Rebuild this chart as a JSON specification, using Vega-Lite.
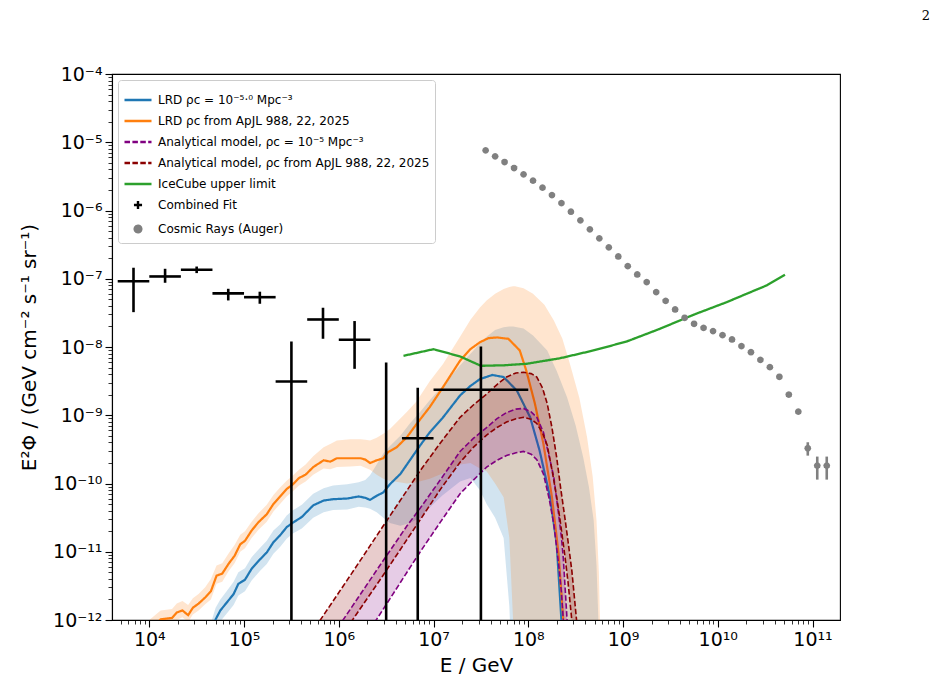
{
"$schema": "https://vega.github.io/schema/vega-lite/v6.json",
"width": 728, "height": 546,
"autosize": {"type": "none"},
"padding": {"left": 112, "top": 74, "right": 98, "bottom": 68},
"background": "white",
"title": {"text": "2", "anchor": "end", "font": "DejaVu Serif", "fontSize": 13, "fontWeight": "normal", "color": "black", "dx": 90, "offset": 42},
"config": {
  "view": {"stroke": "black", "strokeWidth": 1.1},
  "font": "DejaVu Sans",
  "axis": {"labelFont": "DejaVu Sans", "labelFontSize": 19, "titleFont": "DejaVu Sans", "titleFontSize": 20, "titleFontWeight": "normal", "labelColor": "black", "titleColor": "black", "tickColor": "black", "domainColor": "black", "domainWidth": 1.1, "grid": false, "labelFlush": false, "labelOverlap": false, "labelPadding": 3}
},
"resolve": {"axis": {"x": "independent", "y": "independent"}},
"datasets": {
"lrd_blue": [
{"E":4.467e4,"F":5.012e-13},{"E":5.012e4,"F":1.023e-12},{"E":5.623e4,"F":1.380e-12},{"E":6.607e4,"F":1.820e-12},{"E":7.762e4,"F":2.399e-12},{"E":8.710e4,"F":3.388e-12},{"E":1.023e5,"F":3.890e-12},{"E":1.202e5,"F":5.623e-12},{"E":1.479e5,"F":7.762e-12},{"E":1.738e5,"F":9.772e-12},{"E":2.042e5,"F":1.380e-11},{"E":2.399e5,"F":1.738e-11},{"E":2.818e5,"F":2.291e-11},{"E":3.311e5,"F":2.692e-11},{"E":4.074e5,"F":3.236e-11},{"E":5.370e5,"F":4.786e-11},{"E":6.918e5,"F":5.623e-11},{"E":8.710e5,"F":5.888e-11},{"E":1.230e6,"F":6.026e-11},{"E":1.622e6,"F":6.457e-11},{"E":1.905e6,"F":6.166e-11},{"E":2.138e6,"F":5.754e-11},{"E":2.512e6,"F":6.607e-11},{"E":2.951e6,"F":7.413e-11},{"E":3.467e6,"F":9.772e-11},{"E":4.467e6,"F":1.380e-10},{"E":5.623e6,"F":2.188e-10},{"E":7.244e6,"F":3.631e-10},{"E":9.120e6,"F":5.623e-10},{"E":1.230e7,"F":8.913e-10},{"E":1.905e7,"F":1.950e-9},{"E":2.455e7,"F":2.692e-9},{"E":3.090e7,"F":3.388e-9},{"E":4.169e7,"F":3.890e-9},{"E":5.495e7,"F":3.631e-9},{"E":7.586e7,"F":2.291e-9},{"E":1.047e8,"F":9.333e-10},{"E":1.318e8,"F":3.020e-10},{"E":1.698e8,"F":6.310e-11},{"E":1.995e8,"F":1.288e-11},{"E":2.239e8,"F":9.772e-13},{"E":2.399e8,"F":2.512e-13}
],
"lrd_orange": [
{"E":1.202e4,"F":8.9e-13},{"E":1.318e4,"F":1.023e-12},{"E":1.738e4,"F":1.072e-12},{"E":1.950e4,"F":1.288e-12},{"E":2.239e4,"F":1.380e-12},{"E":2.570e4,"F":1.175e-12},{"E":2.884e4,"F":1.514e-12},{"E":3.311e4,"F":1.738e-12},{"E":3.890e4,"F":2.138e-12},{"E":4.467e4,"F":2.630e-12},{"E":5.129e4,"F":4.467e-12},{"E":5.888e4,"F":4.786e-12},{"E":6.918e4,"F":6.761e-12},{"E":7.943e4,"F":8.710e-12},{"E":9.120e4,"F":1.288e-11},{"E":1.023e5,"F":1.445e-11},{"E":1.202e5,"F":2.042e-11},{"E":1.413e5,"F":2.692e-11},{"E":1.738e5,"F":3.548e-11},{"E":2.042e5,"F":5.012e-11},{"E":2.399e5,"F":6.457e-11},{"E":2.818e5,"F":8.318e-11},{"E":3.236e5,"F":9.550e-11},{"E":3.802e5,"F":1.202e-10},{"E":4.467e5,"F":1.349e-10},{"E":5.370e5,"F":1.738e-10},{"E":6.918e5,"F":2.188e-10},{"E":8.128e5,"F":2.089e-10},{"E":9.550e5,"F":2.344e-10},{"E":1.318e6,"F":2.344e-10},{"E":1.698e6,"F":2.344e-10},{"E":1.905e6,"F":2.239e-10},{"E":2.138e6,"F":1.995e-10},{"E":2.512e6,"F":2.188e-10},{"E":2.951e6,"F":2.344e-10},{"E":3.311e6,"F":2.884e-10},{"E":4.074e6,"F":3.388e-10},{"E":5.248e6,"F":4.786e-10},{"E":6.607e6,"F":7.413e-10},{"E":9.120e6,"F":1.318e-9},{"E":1.230e7,"F":2.455e-9},{"E":1.905e7,"F":6.310e-9},{"E":2.455e7,"F":9.333e-9},{"E":3.090e7,"F":1.175e-8},{"E":3.802e7,"F":1.349e-8},{"E":4.677e7,"F":1.380e-8},{"E":6.166e7,"F":1.318e-8},{"E":8.128e7,"F":8.913e-9},{"E":9.550e7,"F":4.467e-9},{"E":1.175e8,"F":1.479e-9},{"E":1.445e8,"F":3.802e-10},{"E":1.778e8,"F":6.310e-11},{"E":2.089e8,"F":9.333e-12},{"E":2.344e8,"F":9.772e-13},{"E":2.512e8,"F":2.512e-13}
],
"band_blue": [
{"E":4.467e4,"lo":3.162e-13,"hi":8.913e-13},{"E":5.012e4,"lo":7.079e-13,"hi":1.514e-12},{"E":5.623e4,"lo":9.550e-13,"hi":1.995e-12},{"E":6.607e4,"lo":1.259e-12,"hi":2.692e-12},{"E":7.762e4,"lo":1.660e-12,"hi":3.631e-12},{"E":8.710e4,"lo":2.291e-12,"hi":5.012e-12},{"E":1.023e5,"lo":2.630e-12,"hi":5.754e-12},{"E":1.202e5,"lo":3.802e-12,"hi":8.318e-12},{"E":1.479e5,"lo":5.248e-12,"hi":1.148e-11},{"E":1.738e5,"lo":6.607e-12,"hi":1.445e-11},{"E":2.042e5,"lo":9.333e-12,"hi":2.042e-11},{"E":2.399e5,"lo":1.175e-11,"hi":2.512e-11},{"E":2.818e5,"lo":1.549e-11,"hi":3.388e-11},{"E":3.311e5,"lo":1.862e-11,"hi":4.074e-11},{"E":4.074e5,"lo":2.188e-11,"hi":4.898e-11},{"E":5.370e5,"lo":3.162e-11,"hi":7.079e-11},{"E":6.918e5,"lo":3.802e-11,"hi":8.511e-11},{"E":8.710e5,"lo":4.074e-11,"hi":9.333e-11},{"E":1.230e6,"lo":4.169e-11,"hi":9.772e-11},{"E":1.622e6,"lo":4.571e-11,"hi":1.047e-10},{"E":1.905e6,"lo":4.467e-11,"hi":1.122e-10},{"E":2.138e6,"lo":4.266e-11,"hi":1.318e-10},{"E":2.512e6,"lo":3.802e-11,"hi":1.905e-10},{"E":2.951e6,"lo":3.162e-11,"hi":2.754e-10},{"E":3.467e6,"lo":2.630e-11,"hi":3.548e-10},{"E":4.467e6,"lo":2.399e-11,"hi":5.012e-10},{"E":5.623e6,"lo":2.630e-11,"hi":7.586e-10},{"E":7.244e6,"lo":3.162e-11,"hi":1.122e-9},{"E":9.120e6,"lo":4.467e-11,"hi":1.660e-9},{"E":1.230e7,"lo":6.607e-11,"hi":2.630e-9},{"E":1.905e7,"lo":1.072e-10,"hi":5.370e-9},{"E":2.455e7,"lo":1.202e-10,"hi":7.943e-9},{"E":3.090e7,"lo":7.943e-11,"hi":1.122e-8},{"E":3.631e7,"lo":5.012e-11,"hi":1.413e-8},{"E":4.467e7,"lo":3.162e-11,"hi":1.778e-8},{"E":5.495e7,"lo":1.585e-11,"hi":1.950e-8},{"E":6.310e7,"lo":1.585e-12,"hi":1.995e-8},{"E":6.607e7,"lo":3.162e-13,"hi":1.995e-8},{"E":6.918e7,"lo":1e-13,"hi":1.995e-8},{"E":8.913e7,"lo":1e-13,"hi":1.862e-8},{"E":1.122e8,"lo":1e-13,"hi":1.479e-8},{"E":1.585e8,"lo":1e-13,"hi":8.913e-9},{"E":1.995e8,"lo":1e-13,"hi":4.467e-9},{"E":2.570e8,"lo":1e-13,"hi":1.820e-9},{"E":3.162e8,"lo":1e-13,"hi":7.079e-10},{"E":3.802e8,"lo":1e-13,"hi":2.399e-10},{"E":4.365e8,"lo":1e-13,"hi":8.913e-11},{"E":4.898e8,"lo":1e-13,"hi":2.884e-11},{"E":5.248e8,"lo":1e-13,"hi":6.310e-12},{"E":5.495e8,"lo":1e-13,"hi":9.772e-13},{"E":5.689e8,"lo":1e-13,"hi":1e-13}
],
"band_orange": [
{"E":1e4,"lo":3.981e-13,"hi":1e-12},{"E":1.318e4,"lo":7.943e-13,"hi":1.380e-12},{"E":1.738e4,"lo":8.511e-13,"hi":1.445e-12},{"E":1.950e4,"lo":1e-12,"hi":1.738e-12},{"E":2.239e4,"lo":1.096e-12,"hi":1.905e-12},{"E":2.570e4,"lo":9.333e-13,"hi":1.660e-12},{"E":2.884e4,"lo":1.202e-12,"hi":2.089e-12},{"E":3.311e4,"lo":1.380e-12,"hi":2.399e-12},{"E":3.890e4,"lo":1.698e-12,"hi":3.020e-12},{"E":4.467e4,"lo":1.995e-12,"hi":3.981e-12},{"E":5.129e4,"lo":3.388e-12,"hi":6.310e-12},{"E":5.888e4,"lo":3.631e-12,"hi":6.761e-12},{"E":6.918e4,"lo":5.248e-12,"hi":9.550e-12},{"E":7.943e4,"lo":6.761e-12,"hi":1.259e-11},{"E":9.120e4,"lo":1e-11,"hi":1.778e-11},{"E":1.023e5,"lo":1.122e-11,"hi":1.995e-11},{"E":1.202e5,"lo":1.585e-11,"hi":2.754e-11},{"E":1.413e5,"lo":2.089e-11,"hi":3.631e-11},{"E":1.738e5,"lo":2.754e-11,"hi":4.898e-11},{"E":2.042e5,"lo":3.890e-11,"hi":6.761e-11},{"E":2.399e5,"lo":5.012e-11,"hi":8.710e-11},{"E":2.818e5,"lo":6.457e-11,"hi":1.096e-10},{"E":3.236e5,"lo":7.586e-11,"hi":1.288e-10},{"E":3.802e5,"lo":9.333e-11,"hi":1.585e-10},{"E":4.467e5,"lo":1.072e-10,"hi":1.905e-10},{"E":5.370e5,"lo":1.349e-10,"hi":2.512e-10},{"E":6.918e5,"lo":1.660e-10,"hi":3.388e-10},{"E":8.128e5,"lo":1.622e-10,"hi":3.802e-10},{"E":9.550e5,"lo":1.738e-10,"hi":4.266e-10},{"E":1.318e6,"lo":1.778e-10,"hi":4.467e-10},{"E":1.698e6,"lo":1.820e-10,"hi":4.467e-10},{"E":1.905e6,"lo":1.698e-10,"hi":4.365e-10},{"E":2.138e6,"lo":1.585e-10,"hi":4.266e-10},{"E":2.512e6,"lo":1.349e-10,"hi":4.677e-10},{"E":2.951e6,"lo":1.175e-10,"hi":5.370e-10},{"E":3.467e6,"lo":1.096e-10,"hi":6.310e-10},{"E":5.248e6,"lo":1e-10,"hi":1.122e-9},{"E":6.607e6,"lo":1.047e-10,"hi":1.585e-9},{"E":9.120e6,"lo":1.175e-10,"hi":3.162e-9},{"E":1.259e7,"lo":1.413e-10,"hi":5.623e-9},{"E":1.905e7,"lo":1.905e-10,"hi":1.413e-8},{"E":2.455e7,"lo":1.995e-10,"hi":2.512e-8},{"E":3.090e7,"lo":1.660e-10,"hi":3.802e-8},{"E":3.631e7,"lo":1.514e-10,"hi":4.786e-8},{"E":4.467e7,"lo":1e-10,"hi":6.026e-8},{"E":5.495e7,"lo":6.310e-11,"hi":7.079e-8},{"E":6.310e7,"lo":1.585e-11,"hi":7.586e-8},{"E":6.918e7,"lo":9.772e-13,"hi":7.762e-8},{"E":7.244e7,"lo":1e-13,"hi":7.762e-8},{"E":8.913e7,"lo":1e-13,"hi":7.244e-8},{"E":1.122e8,"lo":1e-13,"hi":6.026e-8},{"E":1.479e8,"lo":1e-13,"hi":4.169e-8},{"E":1.862e8,"lo":1e-13,"hi":2.455e-8},{"E":2.291e8,"lo":1e-13,"hi":1.318e-8},{"E":2.754e8,"lo":1e-13,"hi":5.623e-9},{"E":3.467e8,"lo":1e-13,"hi":1.778e-9},{"E":4.169e8,"lo":1e-13,"hi":4.786e-10},{"E":4.786e8,"lo":1e-13,"hi":1.259e-10},{"E":5.248e8,"lo":1e-13,"hi":2.884e-11},{"E":5.559e8,"lo":1e-13,"hi":5.012e-12},{"E":5.715e8,"lo":1e-13,"hi":9.772e-13},{"E":5.888e8,"lo":1e-13,"hi":1e-13}
],
"an_darkred": [
{"E":6.310e5,"hi":9.772e-13,"lo":1.950e-13},{"E":1.380e6,"hi":4.898e-12,"lo":9.772e-13},{"E":2.951e6,"hi":2.399e-11,"lo":4.571e-12},{"E":7.244e6,"hi":1.549e-10,"lo":2.951e-11},{"E":1.175e7,"hi":3.890e-10,"lo":8.128e-11},{"E":1.905e7,"hi":9.333e-10,"lo":2.042e-10},{"E":2.630e7,"hi":1.413e-9,"lo":3.388e-10},{"E":3.631e7,"hi":2.042e-9,"lo":5.129e-10},{"E":4.677e7,"hi":2.818e-9,"lo":6.607e-10},{"E":5.888e7,"hi":3.631e-9,"lo":7.943e-10},{"E":7.413e7,"hi":4.169e-9,"lo":8.913e-10},{"E":8.913e7,"hi":4.266e-9,"lo":9.333e-10},{"E":1.072e8,"hi":4.074e-9,"lo":8.710e-10},{"E":1.230e8,"hi":3.631e-9,"lo":7.586e-10},{"E":1.413e8,"hi":2.512e-9,"lo":5.495e-10},{"E":1.585e8,"hi":1.479e-9,"lo":3.631e-10},{"E":1.778e8,"hi":6.607e-10,"lo":1.585e-10},{"E":1.995e8,"hi":2.399e-10,"lo":6.310e-11},{"E":2.188e8,"hi":8.913e-11,"lo":2.630e-11},{"E":2.455e8,"hi":2.884e-11,"lo":7.943e-12},{"E":2.630e8,"hi":1.413e-11,"lo":3.548e-12},{"E":2.884e8,"hi":5.248e-12,"lo":9.772e-13},{"E":3.236e8,"hi":9.772e-13,"lo":1.259e-13},{"E":3.548e8,"hi":1.585e-13,"lo":3.162e-14}
],
"an_purple": [
{"E":1.096e6,"hi":9.772e-13,"lo":1.995e-13},{"E":2.512e6,"hi":5.370e-12,"lo":1.023e-12},{"E":5.248e6,"hi":2.399e-11,"lo":5.012e-12},{"E":7.244e6,"hi":4.365e-11,"lo":1e-11},{"E":1.175e7,"hi":1.122e-10,"lo":2.692e-11},{"E":1.905e7,"hi":2.951e-10,"lo":7.079e-11},{"E":2.630e7,"hi":4.571e-10,"lo":1.122e-10},{"E":3.631e7,"hi":6.607e-10,"lo":1.738e-10},{"E":4.677e7,"hi":8.913e-10,"lo":2.188e-10},{"E":5.888e7,"hi":1.096e-9,"lo":2.570e-10},{"E":7.413e7,"hi":1.230e-9,"lo":2.818e-10},{"E":8.913e7,"hi":1.259e-9,"lo":2.951e-10},{"E":1.072e8,"hi":1.122e-9,"lo":2.692e-10},{"E":1.230e8,"hi":9.333e-10,"lo":2.239e-10},{"E":1.445e8,"hi":5.623e-10,"lo":1.380e-10},{"E":1.660e8,"hi":2.512e-10,"lo":6.026e-11},{"E":1.862e8,"hi":1.230e-10,"lo":2.512e-11},{"E":2.089e8,"hi":3.548e-11,"lo":6.607e-12},{"E":2.239e8,"hi":1.622e-11,"lo":2.512e-12},{"E":2.344e8,"hi":7.943e-12,"lo":9.772e-13},{"E":2.570e8,"hi":9.772e-13,"lo":1e-13},{"E":2.818e8,"hi":1e-13,"lo":1e-14}
],
"icecube": [
{"E":4.82e6,"F":7.43e-9},{"E":1.0e7,"F":9.29e-9},{"E":1.91e7,"F":7.26e-9},{"E":3.16e7,"F":5.30e-9},{"E":5.6e7,"F":5.40e-9},{"E":9.64e7,"F":5.68e-9},{"E":2.17e8,"F":6.85e-9},{"E":4.86e8,"F":8.89e-9},{"E":1.094e9,"F":1.205e-8},{"E":2.455e9,"F":1.85e-8},{"E":5.52e9,"F":2.96e-8},{"E":1.242e10,"F":4.54e-8},{"E":2.02e10,"F":6.03e-8},{"E":3.28e10,"F":7.98e-8},{"E":5.12e10,"F":1.146e-7}
],
"fit": [
{"E":6813,"Elo":4642,"Ehi":1e4,"F":9.2e-8,"Flo":3.24e-8,"Fhi":1.45e-7},
{"E":14678,"Elo":1e4,"Ehi":21544,"F":1.08e-7,"Flo":8.73e-8,"Fhi":1.40e-7},
{"E":31623,"Elo":21544,"Ehi":46416,"F":1.355e-7,"Flo":1.21e-7,"Fhi":1.51e-7},
{"E":68129,"Elo":46416,"Ehi":1e5,"F":6.1e-8,"Flo":4.81e-8,"Fhi":7.13e-8},
{"E":146780,"Elo":1e5,"Ehi":215443,"F":5.37e-8,"Flo":4.30e-8,"Fhi":6.46e-8},
{"E":316228,"Elo":215443,"Ehi":464159,"F":3.12e-9,"Flo":1e-15,"Fhi":1.20e-8},
{"E":681292,"Elo":464159,"Ehi":1e6,"F":2.53e-8,"Flo":1.32e-8,"Fhi":3.76e-8},
{"E":1467799,"Elo":1e6,"Ehi":2154435,"F":1.28e-8,"Flo":4.79e-9,"Fhi":2.40e-8},
{"E":3162278,"Elo":2154435,"Ehi":4641589,"F":1e-14,"Flo":1e-15,"Fhi":5.93e-9},
{"E":6812921,"Elo":4641589,"Ehi":1e7,"F":4.60e-10,"Flo":1e-15,"Fhi":2.52e-9},
{"E":31622777,"Elo":1e7,"Ehi":1e8,"F":2.36e-9,"Flo":1e-15,"Fhi":1.02e-8}
],
"auger": [
{"E":3.548e7,"F":7.60e-6},{"E":4.467e7,"F":6.21e-6},{"E":5.623e7,"F":5.13e-6},{"E":7.079e7,"F":4.19e-6},{"E":8.913e7,"F":3.38e-6},{"E":1.122e8,"F":2.74e-6},{"E":1.413e8,"F":2.16e-6},{"E":1.778e8,"F":1.68e-6},{"E":2.239e8,"F":1.285e-6},{"E":2.818e8,"F":9.59e-7},{"E":3.548e8,"F":7.16e-7},{"E":4.467e8,"F":5.28e-7},{"E":5.623e8,"F":3.90e-7},{"E":7.079e8,"F":2.88e-7},{"E":8.913e8,"F":2.12e-7},{"E":1.122e9,"F":1.53e-7},{"E":1.413e9,"F":1.156e-7},{"E":1.778e9,"F":8.93e-8},{"E":2.239e9,"F":6.37e-8},{"E":2.818e9,"F":4.75e-8},{"E":3.548e9,"F":3.55e-8},{"E":4.467e9,"F":2.68e-8},{"E":5.623e9,"F":2.19e-8},{"E":7.079e9,"F":1.91e-8},{"E":8.913e9,"F":1.71e-8},{"E":1.122e10,"F":1.49e-8},{"E":1.413e10,"F":1.29e-8},{"E":1.778e10,"F":1.03e-8},{"E":2.239e10,"F":8.39e-9},{"E":2.818e10,"F":6.49e-9},{"E":3.548e10,"F":5.06e-9},{"E":4.467e10,"F":3.66e-9},{"E":5.623e10,"F":2.01e-9},{"E":7.079e10,"F":1.13e-9},{"E":8.913e10,"F":3.28e-10},{"E":1.122e11,"F":1.83e-10},{"E":1.413e11,"F":1.83e-10}
],
"auger_err": [
{"E":8.913e10,"Flo":2.56e-10,"Fhi":4.02e-10},{"E":1.122e11,"Flo":1.14e-10,"Fhi":2.48e-10},{"E":1.413e11,"Flo":1.14e-10,"Fhi":2.48e-10}
]
},
"layer": [
{
 "data": {"name": "band_blue"},
 "mark": {"type": "area", "fillOpacity": 0.2, "clip": true},
 "encoding": {
  "x": {"field": "E", "type": "quantitative",
   "scale": {"type": "log", "domain": [4040, 1.95e11], "nice": false},
   "axis": {
    "orient": "bottom", "title": "E / GeV", "titlePadding": 6, "tickSize": 7, "tickWidth": 1.1,
    "values": [1e4,1e5,1e6,1e7,1e8,1e9,1e10,1e11],
    "labelExpr": "['10⁴','10⁵','10⁶','10⁷','10⁸','10⁹','10¹⁰','10¹¹'][round(log(datum.value)/LN10) - 4]"
   }},
  "y": {"field": "lo", "type": "quantitative",
   "scale": {"type": "log", "domain": [1e-12, 1e-4], "nice": false},
   "axis": {
    "orient": "left", "title": "E²Φ / (GeV cm⁻² s⁻¹ sr⁻¹)", "titlePadding": 13, "tickSize": 7, "tickWidth": 1.1,
    "values": [1e-12,1e-11,1e-10,1e-9,1e-8,1e-7,1e-6,1e-5,1e-4],
    "labelExpr": "['10⁻¹²','10⁻¹¹','10⁻¹⁰','10⁻⁹','10⁻⁸','10⁻⁷','10⁻⁶','10⁻⁵','10⁻⁴'][round(log(datum.value)/LN10) + 12]"
   }},
  "y2": {"field": "hi"},
  "color": {"datum": "LRD ρc = 10⁻⁵·⁰ Mpc⁻³", "type": "nominal",
   "scale": {"domain": ["LRD ρc = 10⁻⁵·⁰ Mpc⁻³", "LRD ρc from ApJL 988, 22, 2025", "Analytical model, ρc = 10⁻⁵ Mpc⁻³", "Analytical model, ρc from ApJL 988, 22, 2025", "IceCube upper limit", "Combined Fit", "Cosmic Rays (Auger)"],
             "range": ["#1f77b4", "#ff7f0e", "#800080", "#8b0000", "#2ca02c", "#000000", "#808080"]},
   "legend": {"orient": "top-left", "offset": 6, "title": null, "padding": 5,
    "fillColor": "white", "strokeColor": "#cccccc", "cornerRadius": 3,
    "symbolType": "stroke", "symbolSize": 729, "symbolStrokeWidth": 2.4, "symbolOpacity": 1,
    "labelFontSize": 12, "labelFont": "DejaVu Sans", "labelColor": "black", "labelOffset": 5, "rowPadding": -4, "labelLimit": 400}}
 }
},
{
 "data": {"name": "band_orange"},
 "mark": {"type": "area", "fillOpacity": 0.2, "clip": true},
 "encoding": {
  "x": {"field": "E", "type": "quantitative",
   "axis": {"orient": "bottom", "title": null, "labels": false, "domain": false, "tickSize": 4, "tickWidth": 0.8,
    "values": [5e3,6e3,7e3,8e3,9e3,2e4,3e4,4e4,5e4,6e4,7e4,8e4,9e4,2e5,3e5,4e5,5e5,6e5,7e5,8e5,9e5,2e6,3e6,4e6,5e6,6e6,7e6,8e6,9e6,2e7,3e7,4e7,5e7,6e7,7e7,8e7,9e7,2e8,3e8,4e8,5e8,6e8,7e8,8e8,9e8,2e9,3e9,4e9,5e9,6e9,7e9,8e9,9e9,2e10,3e10,4e10,5e10,6e10,7e10,8e10,9e10]}},
  "y": {"field": "lo", "type": "quantitative",
   "axis": {"orient": "left", "title": null, "labels": false, "domain": false, "tickSize": 4, "tickWidth": 0.8,
    "values": [2e-12,3e-12,4e-12,5e-12,6e-12,7e-12,8e-12,9e-12,2e-11,3e-11,4e-11,5e-11,6e-11,7e-11,8e-11,9e-11,2e-10,3e-10,4e-10,5e-10,6e-10,7e-10,8e-10,9e-10,2e-9,3e-9,4e-9,5e-9,6e-9,7e-9,8e-9,9e-9,2e-8,3e-8,4e-8,5e-8,6e-8,7e-8,8e-8,9e-8,2e-7,3e-7,4e-7,5e-7,6e-7,7e-7,8e-7,9e-7,2e-6,3e-6,4e-6,5e-6,6e-6,7e-6,8e-6,9e-6,2e-5,3e-5,4e-5,5e-5,6e-5,7e-5,8e-5,9e-5]}},
  "y2": {"field": "hi"},
  "color": {"datum": "LRD ρc from ApJL 988, 22, 2025", "type": "nominal"}
 }
},
{
 "data": {"name": "lrd_blue"},
 "mark": {"type": "line", "strokeWidth": 2.2, "clip": true},
 "encoding": {
  "x": {"field": "E", "type": "quantitative", "axis": null},
  "y": {"field": "F", "type": "quantitative", "axis": null},
  "color": {"datum": "LRD ρc = 10⁻⁵·⁰ Mpc⁻³", "type": "nominal"},
  "strokeDash": {"datum": "LRD ρc = 10⁻⁵·⁰ Mpc⁻³", "type": "nominal",
   "scale": {"domain": ["LRD ρc = 10⁻⁵·⁰ Mpc⁻³", "LRD ρc from ApJL 988, 22, 2025", "Analytical model, ρc = 10⁻⁵ Mpc⁻³", "Analytical model, ρc from ApJL 988, 22, 2025", "IceCube upper limit", "Combined Fit", "Cosmic Rays (Auger)"],
             "range": [[1,0],[1,0],[5.5,2.4],[5.5,2.4],[1,0],[1,0],[1,0]]},
   "legend": {"orient": "top-left", "offset": 6, "title": null, "padding": 5,
    "fillColor": "white", "strokeColor": "#cccccc", "cornerRadius": 3,
    "symbolType": "stroke", "symbolSize": 729, "symbolStrokeWidth": 2.4, "symbolOpacity": 1,
    "labelFontSize": 12, "labelFont": "DejaVu Sans", "labelColor": "black", "labelOffset": 5, "rowPadding": -4, "labelLimit": 400}}
 }
},
{
 "data": {"name": "lrd_orange"},
 "mark": {"type": "line", "strokeWidth": 2.2, "clip": true},
 "encoding": {
  "x": {"field": "E", "type": "quantitative", "axis": null},
  "y": {"field": "F", "type": "quantitative", "axis": null},
  "color": {"datum": "LRD ρc from ApJL 988, 22, 2025", "type": "nominal"},
  "strokeDash": {"datum": "LRD ρc from ApJL 988, 22, 2025", "type": "nominal"}
 }
},
{
 "data": {"name": "an_purple"},
 "mark": {"type": "area", "fillOpacity": 0.2, "clip": true},
 "encoding": {
  "x": {"field": "E", "type": "quantitative", "axis": null},
  "y": {"field": "lo", "type": "quantitative", "axis": null},
  "y2": {"field": "hi"},
  "color": {"datum": "Analytical model, ρc = 10⁻⁵ Mpc⁻³", "type": "nominal"}
 }
},
{
 "data": {"name": "an_darkred"},
 "mark": {"type": "area", "fillOpacity": 0.2, "clip": true},
 "encoding": {
  "x": {"field": "E", "type": "quantitative", "axis": null},
  "y": {"field": "lo", "type": "quantitative", "axis": null},
  "y2": {"field": "hi"},
  "color": {"datum": "Analytical model, ρc from ApJL 988, 22, 2025", "type": "nominal"}
 }
},
{
 "data": {"name": "an_purple"},
 "mark": {"type": "line", "strokeWidth": 1.6, "clip": true},
 "encoding": {
  "x": {"field": "E", "type": "quantitative", "axis": null},
  "y": {"field": "hi", "type": "quantitative", "axis": null},
  "color": {"datum": "Analytical model, ρc = 10⁻⁵ Mpc⁻³", "type": "nominal"},
  "strokeDash": {"datum": "Analytical model, ρc = 10⁻⁵ Mpc⁻³", "type": "nominal"}
 }
},
{
 "data": {"name": "an_purple"},
 "mark": {"type": "line", "strokeWidth": 1.6, "clip": true},
 "encoding": {
  "x": {"field": "E", "type": "quantitative", "axis": null},
  "y": {"field": "lo", "type": "quantitative", "axis": null},
  "color": {"datum": "Analytical model, ρc = 10⁻⁵ Mpc⁻³", "type": "nominal"},
  "strokeDash": {"datum": "Analytical model, ρc = 10⁻⁵ Mpc⁻³", "type": "nominal"}
 }
},
{
 "data": {"name": "an_darkred"},
 "mark": {"type": "line", "strokeWidth": 1.6, "clip": true},
 "encoding": {
  "x": {"field": "E", "type": "quantitative", "axis": null},
  "y": {"field": "hi", "type": "quantitative", "axis": null},
  "color": {"datum": "Analytical model, ρc from ApJL 988, 22, 2025", "type": "nominal"},
  "strokeDash": {"datum": "Analytical model, ρc from ApJL 988, 22, 2025", "type": "nominal"}
 }
},
{
 "data": {"name": "an_darkred"},
 "mark": {"type": "line", "strokeWidth": 1.6, "clip": true},
 "encoding": {
  "x": {"field": "E", "type": "quantitative", "axis": null},
  "y": {"field": "lo", "type": "quantitative", "axis": null},
  "color": {"datum": "Analytical model, ρc from ApJL 988, 22, 2025", "type": "nominal"},
  "strokeDash": {"datum": "Analytical model, ρc from ApJL 988, 22, 2025", "type": "nominal"}
 }
},
{
 "data": {"name": "icecube"},
 "mark": {"type": "line", "strokeWidth": 2.3, "clip": true},
 "encoding": {
  "x": {"field": "E", "type": "quantitative", "axis": null},
  "y": {"field": "F", "type": "quantitative", "axis": null},
  "color": {"datum": "IceCube upper limit", "type": "nominal"},
  "strokeDash": {"datum": "IceCube upper limit", "type": "nominal"}
 }
},
{
 "data": {"name": "fit"},
 "mark": {"type": "rule", "strokeWidth": 2.6, "clip": true},
 "encoding": {
  "x": {"field": "Elo", "type": "quantitative", "axis": null},
  "x2": {"field": "Ehi"},
  "y": {"field": "F", "type": "quantitative", "axis": null},
  "color": {"datum": "Combined Fit", "type": "nominal"}
 }
},
{
 "data": {"name": "fit"},
 "mark": {"type": "rule", "strokeWidth": 2.6, "clip": true},
 "encoding": {
  "x": {"field": "E", "type": "quantitative", "axis": null},
  "y": {"field": "Flo", "type": "quantitative", "axis": null},
  "y2": {"field": "Fhi"},
  "color": {"datum": "Combined Fit", "type": "nominal"}
 }
},
{
 "data": {"name": "auger_err"},
 "mark": {"type": "rule", "strokeWidth": 2.6, "clip": true},
 "encoding": {
  "x": {"field": "E", "type": "quantitative", "axis": null},
  "y": {"field": "Flo", "type": "quantitative", "axis": null},
  "y2": {"field": "Fhi"},
  "color": {"datum": "Cosmic Rays (Auger)", "type": "nominal"}
 }
},
{
 "data": {"name": "auger"},
 "mark": {"type": "point", "filled": true, "size": 729, "opacity": 1, "clip": true},
 "encoding": {
  "x": {"field": "E", "type": "quantitative", "axis": null},
  "y": {"field": "F", "type": "quantitative", "axis": null},
  "color": {"datum": "Cosmic Rays (Auger)", "type": "nominal"},
  "shape": {"datum": "Cosmic Rays (Auger)", "type": "nominal",
   "scale": {"domain": ["LRD ρc = 10⁻⁵·⁰ Mpc⁻³", "LRD ρc from ApJL 988, 22, 2025", "Analytical model, ρc = 10⁻⁵ Mpc⁻³", "Analytical model, ρc from ApJL 988, 22, 2025", "IceCube upper limit", "Combined Fit", "Cosmic Rays (Auger)"],
             "range": ["stroke", "stroke", "stroke", "stroke", "stroke", "M-0.3,0H0.3M0,-0.3V0.3", "M0.25,0L0.217,0.125L0.125,0.217L0,0.25L-0.125,0.217L-0.217,0.125L-0.25,0L-0.217,-0.125L-0.125,-0.217L0,-0.25L0.125,-0.217L0.217,-0.125Z"]},
   "legend": {"orient": "top-left", "offset": 6, "title": null, "padding": 5,
    "fillColor": "white", "strokeColor": "#cccccc", "cornerRadius": 3,
    "symbolSize": 729, "symbolStrokeWidth": 2.4, "symbolOpacity": 1,
    "labelFontSize": 12, "labelFont": "DejaVu Sans", "labelColor": "black", "labelOffset": 5, "rowPadding": -4, "labelLimit": 400}}
 }
}
]
}
